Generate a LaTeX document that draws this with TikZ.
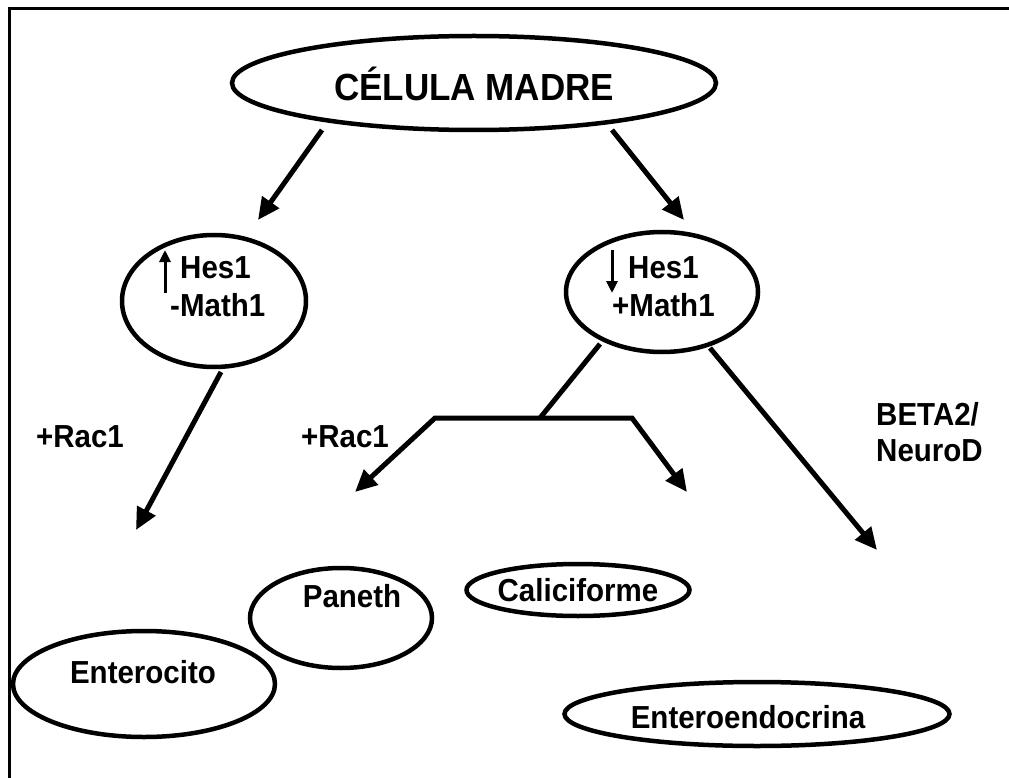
\documentclass[tikz,border=0pt]{standalone}
\usepackage{fontspec}
\usepackage{graphicx}
\setmainfont{Liberation Sans}
\usetikzlibrary{arrows.meta,shapes.geometric}
\newcommand{\tall}[1]{\scalebox{1}[1.08]{#1}}
\begin{document}
\begin{tikzpicture}[x=1pt,y=-1pt,
  cell/.style={draw, ellipse, line width=4.5pt, inner sep=0pt},
  lbl/.style={font=\fontsize{29.5}{37}\selectfont\bfseries, inner sep=0pt},
  big/.style={font=\fontsize{35}{40}\selectfont\bfseries, inner sep=0pt},
  arr/.style={line width=5pt, -{Triangle[length=22pt,width=20pt]}},
  ln/.style={line width=5pt},
  fork/.style={line width=5pt, {Triangle[length=22pt,width=20pt]}-{Triangle[length=22pt,width=20pt]}},
  tiny/.style={line width=3pt, -{Triangle[length=12pt,width=11pt]}}]
\useasboundingbox (0,0) rectangle (1009,778);
\draw[line width=3pt] (9,800) -- (9,9) -- (1030,9);
% cells
\node[cell, minimum width=484pt, minimum height=94pt] (madre) at (474,83) {};
\node[big] (madreT) at (474,84) {\tall{CÉLULA MADRE}};
\node[cell, minimum width=184pt, minimum height=132pt] (hesL) at (214,301) {};
\node[cell, minimum width=192pt, minimum height=120pt] (hesR) at (662,292) {};
\node[cell, minimum width=262pt, minimum height=106pt] (ent) at (144,684) {};
\node[cell, minimum width=182pt, minimum height=100pt] (pan) at (341,618) {};
\node[cell, minimum width=223pt, minimum height=52pt] (cal) at (578,590) {};
\node[cell, minimum width=385pt, minimum height=64pt] (eend) at (757,714) {};
% texts
\node[lbl, anchor=west] (hesLa) at (180,268) {\tall{Hes1}};
\node[lbl, anchor=west] (hesLb) at (170,305) {\tall{-Math1}};
\node[lbl, anchor=west] (hesRa) at (628,268) {\tall{Hes1}};
\node[lbl, anchor=west] (hesRb) at (612,305) {\tall{+Math1}};
\coordinate (upS) at (165,293); \coordinate (upE) at (165,250);
\coordinate (dnS) at (612,250); \coordinate (dnE) at (612,293);
\draw[tiny] (upS) -- (upE);
\draw[tiny] (dnS) -- (dnE);
\node[lbl] (entT) at (143,672) {\tall{Enterocito}};
\node[lbl] (panT) at (352,596) {\tall{Paneth}};
\node[lbl] (calT) at (578,590) {\tall{Caliciforme}};
\node[lbl] (eendT) at (748,717) {\tall{Enteroendocrina}};
\node[lbl] (rac1) at (80,437) {\tall{+Rac1}};
\node[lbl] (rac2) at (345,437) {\tall{+Rac1}};
\node[lbl, anchor=west] (beta) at (876,414) {\tall{BETA2/}};
\node[lbl, anchor=west] (neurod) at (876,451) {\tall{NeuroD}};
% connectors
\coordinate (a1s) at (322,130); \coordinate (a1e) at (258,220);
\coordinate (a2s) at (612,130); \coordinate (a2e) at (684,220);
\coordinate (a3s) at (221,372); \coordinate (a3e) at (136,530);
\coordinate (a4s) at (710,348); \coordinate (a4e) at (877,550);
\coordinate (fs) at (600,344); \coordinate (fj) at (540,418);
\coordinate (fl) at (435,418); \coordinate (fr) at (632,418);
\coordinate (fle) at (355,492); \coordinate (fre) at (687,492);
\draw[arr] (a1s) -- (a1e);
\draw[arr] (a2s) -- (a2e);
\draw[arr] (a3s) -- (a3e);
\draw[arr] (a4s) -- (a4e);
\draw[ln] (fs) -- (fj);
\draw[fork] (fle) -- (fl) -- (fr) -- (fre);
\end{tikzpicture}
\end{document}
